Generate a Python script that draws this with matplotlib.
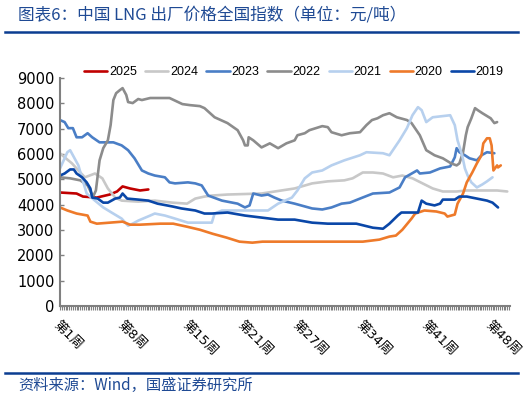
import numpy as np
import matplotlib
matplotlib.use("Agg")
import matplotlib.pyplot as plt
from matplotlib.ticker import MultipleLocator, FixedLocator

plt.rcParams['font.family'] = ['DejaVu Sans', 'Noto Sans CJK SC']

# week position / index value (元/吨)
w2025 = [1.0, 2.8, 3.5, 5.0, 6.4, 7.2, 7.8, 8.6, 9.7, 10.6]
v2025 = [4480, 4440, 4320, 4280, 4400, 4520, 4720, 4640, 4560, 4600]

w2024 = [1.0, 1.5, 2.3, 3.0, 3.7, 4.0, 4.8, 5.6, 6.2, 7.0, 7.7, 9.5, 11.3, 13.2, 14.8,
         15.7, 16.7, 17.5, 19.2, 22.9, 26.5, 28.4, 30.1, 31.9, 32.8, 33.9, 35.0, 36.1,
         37.2, 38.2, 39.3, 40.4, 41.5, 42.6, 44.1, 45.2, 46.6, 48.5, 49.6]
v2024 = [6030, 5870, 5630, 5350, 5080, 5120, 5230, 5040, 4640, 4280, 4160, 4120, 4160,
         4080, 4040, 4240, 4320, 4360, 4400, 4440, 4640, 4840, 4920, 4960, 5040, 5270,
         5270, 5230, 5080, 5150, 5040, 4840, 4640, 4520, 4520, 4560, 4560, 4560, 4520]

w2023 = [1.0, 1.5, 1.9, 2.4, 2.8, 3.4, 4.0, 4.5, 5.3, 6.1, 6.8, 7.7, 8.4, 9.1, 9.9, 10.6,
         11.3, 12.4, 12.9, 13.5, 14.9, 15.7, 16.4, 17.1, 18.6, 20.3, 21.1, 21.6, 22.0,
         22.9, 23.6, 24.3, 25.1, 26.5, 28.4, 29.5, 30.5, 31.6, 32.5, 33.6, 35.0, 36.8,
         37.9, 38.5, 39.8, 40.1, 41.2, 42.3, 43.4, 43.9, 44.1, 44.4, 45.0, 45.5, 46.3,
         46.8, 47.4, 48.2]
v2023 = [7340, 7260, 7020, 7020, 6660, 6660, 6820, 6660, 6460, 6460, 6460, 6340, 6150,
         5830, 5350, 5230, 5150, 5080, 4880, 4840, 4880, 4840, 4760, 4360, 4160, 4040,
         3890, 3970, 4440, 4360, 4400, 4280, 4160, 4040, 3850, 3810, 3890, 4040, 4080,
         4240, 4440, 4480, 4680, 5080, 5350, 5230, 5270, 5430, 5510, 5870, 6230, 6070,
         5950, 5830, 5750, 5950, 6070, 6030]

w2022 = [1.0, 2.1, 3.2, 4.0, 4.6, 4.9, 5.3, 5.7, 6.2, 6.5, 6.8, 7.1, 7.5, 7.8, 8.2, 8.4,
         8.9, 9.5, 9.9, 10.8, 11.9, 12.9, 13.6, 14.3, 15.1, 16.2, 16.7, 17.8, 19.2, 20.3,
         20.9, 21.1, 21.4, 21.5, 22.0, 22.9, 23.8, 24.7, 25.6, 26.5, 26.8, 27.6, 28.1,
         29.5, 30.1, 30.5, 31.6, 32.5, 33.6, 34.3, 34.9, 35.5, 36.1, 36.8, 37.6, 38.7,
         39.2, 40.1, 40.8, 41.7, 42.6, 43.5, 44.1, 44.4, 44.8, 45.1, 45.3, 45.7, 46.1,
         46.4, 46.9, 47.8, 48.2, 48.5]
v2022 = [5080, 5040, 4960, 4760, 4320, 4560, 5750, 6230, 6540, 7140, 8130, 8400, 8520,
         8600, 8330, 8050, 8010, 8170, 8130, 8210, 8210, 8210, 8090, 7970, 7930, 7890,
         7810, 7450, 7220, 6940, 6540, 6340, 6340, 6660, 6540, 6260, 6420, 6230, 6420,
         6540, 6740, 6820, 6940, 7100, 7060, 6860, 6740, 6820, 6860, 7140, 7340, 7410,
         7530, 7610, 7450, 7340, 7220, 6740, 6150, 5950, 5830, 5630, 5550, 5630, 6070,
         6740, 7060, 7410, 7810, 7730, 7610, 7410, 7220, 7260]

w2021 = [1.0, 1.8, 2.1, 2.4, 3.0, 3.4, 3.9, 4.8, 5.7, 6.6, 7.7, 8.4, 8.9, 9.5, 10.8, 11.3,
         12.4, 13.5, 14.9, 17.5, 17.8, 18.6, 23.6, 24.7, 26.2, 26.8, 27.6, 28.4, 29.5,
         30.5, 31.9, 33.6, 34.3, 36.1, 36.8, 37.9, 38.7, 39.3, 39.9, 40.3, 40.8, 41.5,
         43.4, 43.9, 44.2, 44.7, 45.0, 45.3, 45.7, 46.3, 46.9, 47.4, 48.0]
v2021 = [5430, 6070, 6150, 5950, 5550, 5040, 4440, 4160, 3890, 3690, 3450, 3170, 3250,
         3370, 3570, 3650, 3570, 3450, 3290, 3290, 3650, 3770, 3770, 4040, 4280, 4560,
         5040, 5270, 5350, 5550, 5750, 5950, 6070, 6030, 5950, 6540, 7020, 7530, 7850,
         7730, 7260, 7450, 7530, 7140, 6540, 5950, 5430, 5150, 4880, 4680, 4800, 4920, 5080]

w2020 = [1.0, 1.8, 2.8, 4.0, 4.3, 5.0, 6.4, 7.8, 8.6, 9.7, 11.9, 13.3, 14.8, 16.2, 17.6,
         19.1, 20.5, 21.9, 23.0, 26.6, 30.3, 33.9, 35.7, 36.8, 37.5, 38.2, 39.2, 39.6,
         40.6, 41.9, 42.8, 43.1, 43.9, 44.2, 44.8, 45.2, 45.8, 46.3, 46.8, 47.0, 47.4,
         47.7, 47.9, 48.0, 48.1, 48.5, 48.6, 48.9]
v2020 = [3890, 3770, 3650, 3570, 3330, 3250, 3290, 3330, 3210, 3210, 3250, 3250, 3130,
         3010, 2850, 2700, 2540, 2500, 2540, 2540, 2540, 2540, 2620, 2740, 2780, 3010,
         3450, 3650, 3770, 3730, 3650, 3530, 3610, 4040, 4440, 4880, 5270, 5630, 5950,
         6420, 6620, 6620, 6340, 5830, 5350, 5550, 5470, 5550]

w2019 = [1.0, 1.5, 2.1, 2.5, 2.8, 3.4, 3.9, 4.3, 4.5, 5.1, 5.7, 6.2, 7.0, 7.5, 7.8, 8.3,
         9.5, 10.6, 11.6, 13.2, 14.2, 15.7, 16.7, 17.5, 19.2, 21.1, 22.9, 24.7, 26.5,
         28.4, 30.1, 31.9, 33.2, 35.0, 36.1, 36.8, 37.7, 38.1, 39.0, 39.9, 40.3, 40.8,
         41.7, 42.3, 42.6, 43.9, 44.4, 45.2, 46.3, 47.4, 48.0, 48.6]
v2019 = [5150, 5230, 5390, 5390, 5230, 5080, 4880, 4640, 4280, 4240, 4080, 4080, 4240,
         4280, 4440, 4240, 4200, 4160, 4040, 3930, 3850, 3770, 3650, 3650, 3690, 3570,
         3490, 3410, 3410, 3290, 3250, 3250, 3250, 3090, 3050, 3250, 3570, 3690, 3690,
         3690, 4160, 4040, 3970, 4040, 4200, 4200, 4320, 4320, 4240, 4160, 4080, 3890]

label_weeks = [1, 8, 15, 21, 27, 34, 41, 48]
tick_labels = ['第1周', '第8周', '第15周', '第21周', '第27周', '第34周', '第41周', '第48周']

series = [
    ('2025', w2025, v2025, '#c00000'),
    ('2024', w2024, v2024, '#c8c8c8'),
    ('2023', w2023, v2023, '#4a7ec6'),
    ('2022', w2022, v2022, '#8c8c8c'),
    ('2021', w2021, v2021, '#b7d0ee'),
    ('2020', w2020, v2020, '#ee7a2a'),
    ('2019', w2019, v2019, '#0a47a8'),
]

fig = plt.figure(figsize=(5.26, 3.98), dpi=100)
ax = fig.add_axes([60/526, 1-306/398, 450/526, 228/398])

for name, w, v, c in series:
    ax.plot(w, v, color=c, lw=1.9, label=name, solid_capstyle='round')

ax.set_xlim(1, 49.9)
ax.set_ylim(0, 9000)
ax.yaxis.set_major_locator(MultipleLocator(1000))
ax.tick_params(axis='y', direction='in', length=3, width=1, color='#808080',
               labelsize=10.5, pad=4)
ax.xaxis.set_major_locator(FixedLocator(label_weeks))
ax.xaxis.set_minor_locator(MultipleLocator(0.2))
ax.set_xticklabels(tick_labels, rotation=-45, ha='left', va='top',
                   rotation_mode='anchor', fontsize=9.5)
ax.tick_params(axis='x', which='both', direction='out', length=3, width=0.8,
               color='#808080', pad=6)
for s in ['top', 'right']:
    ax.spines[s].set_visible(False)
for s in ['left', 'bottom']:
    ax.spines[s].set_color('#808080')
    ax.spines[s].set_linewidth(1.5)

fig.legend(loc='center', bbox_to_anchor=(294/526, 1-72/398), ncol=7, frameon=False,
           prop={'family': 'Liberation Sans', 'size': 9},
           handlelength=1.85, handletextpad=0.15, columnspacing=0.65,
           borderaxespad=0, borderpad=0)

blue = '#1f4a94'
cjk = ['Noto Sans CJK SC', 'DejaVu Sans']
fig.text(18/526, 1-15/398, '图表6：中国 LNG 出厂价格全国指数（单位：元/吨）', color=blue,
         fontsize=12, family=cjk, va='center', ha='left')
fig.text(18/526, 1-385/398, '资料来源：Wind，国盛证券研究所', color=blue,
         fontsize=11, family=cjk, va='center', ha='left')
fig.add_artist(plt.Line2D([5/526, 518/526], [1-32/398, 1-32/398], color='#0b3d91', lw=1.8))
fig.add_artist(plt.Line2D([5/526, 518/526], [1-373/398, 1-373/398], color='#0b3d91', lw=1.8))

fig.savefig('out.png', dpi=100)
